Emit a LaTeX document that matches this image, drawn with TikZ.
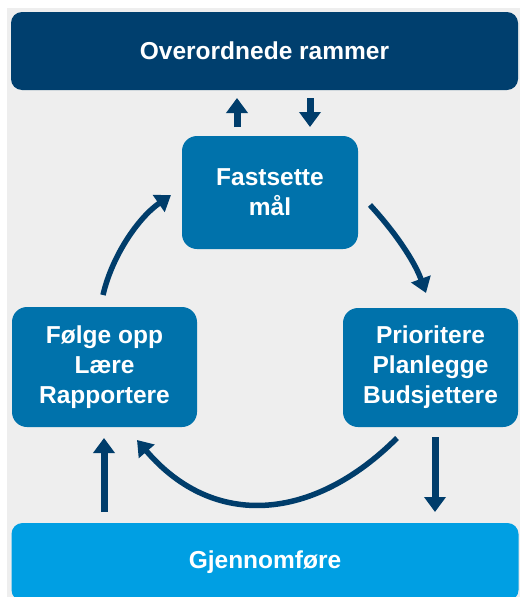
\documentclass[tikz,border=0pt]{standalone}
\usepackage{fontspec}
\setmainfont{Liberation Sans}
\usetikzlibrary{arrows.meta}
\definecolor{navy}{HTML}{003F6E}
\definecolor{midblue}{HTML}{0072AB}
\definecolor{cyanblue}{HTML}{009FE3}
\definecolor{arrowblue}{HTML}{003D6B}
\definecolor{bggray}{HTML}{EEEEEE}
\begin{document}
\begin{tikzpicture}[x=1pt,y=-1pt,
  boxtext/.style={text=white,font=\fontsize{24.5}{30}\selectfont\bfseries,align=center,inner sep=0pt},
  widebox/.style={boxtext,rectangle,rounded corners=11pt,minimum width=507pt,minimum height=78pt},
  stepbox/.style={boxtext,rectangle,rounded corners=15pt,fill=midblue},
  straightarrow/.style={draw=arrowblue,line width=7pt,-{Triangle[width=21pt,length=15pt]}},
  curvearrow/.style={draw=arrowblue,line width=5.5pt,-{Triangle[width=20pt,length=15pt]}}]
\useasboundingbox (0,0) rectangle (520,597);
\fill[white] (0,0) rectangle (520,597);
\fill[bggray] (7,8) rectangle (520,597);
\begin{scope}
\clip (0,0) rectangle (520,597);
\node[widebox,fill=navy] (top) at (264.5,51) {Overordnede rammer};
\node[widebox,fill=cyanblue] (exec) at (265,562) {Gjennomføre};
\end{scope}
\node[stepbox,minimum width=176pt,minimum height=113pt] (goal) at (270,192.5) {Fastsette\\mål};
\node[stepbox,minimum width=185pt,minimum height=120pt] (follow) at (104.5,367) {Følge opp\\Lære\\Rapportere};
\node[stepbox,minimum width=175pt,minimum height=119pt] (plan) at (430.5,367.5) {Prioritere\\Planlegge\\Budsjettere};
% small arrows at top
\coordinate (ua) at (237,127); \coordinate (ub) at (237,98);
\coordinate (da) at (310,98);  \coordinate (db) at (310,127);
\draw[straightarrow] (ua) -- (ub);
\draw[straightarrow] (da) -- (db);
% bottom straight arrows
\coordinate (la) at (104,512); \coordinate (lb) at (104,438);
\coordinate (ra) at (435,437); \coordinate (rb) at (435,512);
\draw[straightarrow] (la) -- (lb);
\draw[straightarrow] (ra) -- (rb);
% cycle arrows
\coordinate (c1a) at (103,295); \coordinate (c1b) at (171,195);
\draw[curvearrow] (c1a) .. controls (112,256) and (138,218) .. (c1b);
\coordinate (c2a) at (370,205); \coordinate (c2b) at (426,293);
\draw[curvearrow] (c2a) .. controls (394,231) and (414,260) .. (c2b);
\coordinate (c3a) at (397,438); \coordinate (c3b) at (137,440);
\draw[curvearrow] (c3a) .. controls (314,521) and (214,530) .. (c3b);
\end{tikzpicture}
\end{document}
